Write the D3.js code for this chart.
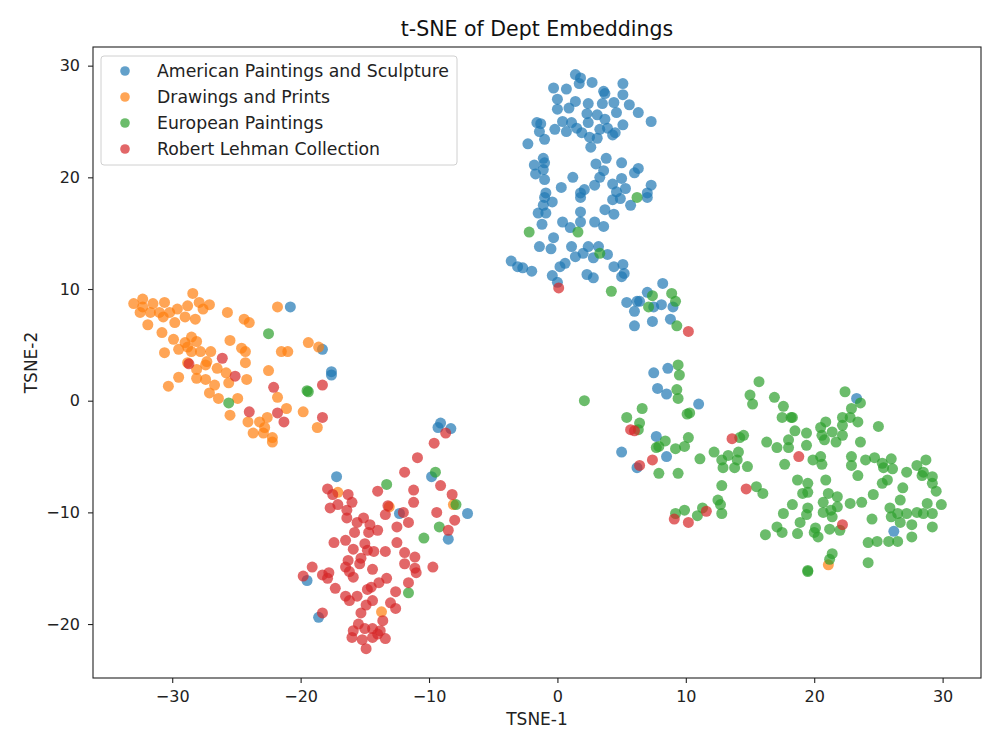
<!DOCTYPE html>
<html>
<head>
<meta charset="utf-8">
<script src="https://cdn.jsdelivr.net/npm/d3@7"></script>
<style>
  body { margin: 0; background: #fff; }
  svg { display: block; font-family: "DejaVu Sans", sans-serif; }
</style>
</head>
<body>
<div class="main-container"></div>
<script>
var categories = ["American Paintings and Sculpture", "Drawings and Prints", "European Paintings", "Robert Lehman Collection"];
var colors = ["#1f77b4", "#ff7f0e", "#2ca02c", "#d62728"];
var xTicks = [-30, -20, -10, 0, 10, 20, 30];
var yTicks = [-20, -10, 0, 10, 20, 30];

// American Paintings and Sculpture
var american = [
  [1.4,29.2],[1.8,28.9],[1.7,28.4],[2.7,28.5],[5.1,28.4],[-0.3,28.0],[0.7,27.9],[3.6,27.7],[3.7,27.5],[5.1,27.4],
  [0.0,27.0],[1.4,26.8],[2.4,26.6],[3.5,26.6],[4.4,26.7],[5.6,26.5],[0.0,26.1],[0.9,26.2],[2.3,25.7],[3.1,25.6],
  [3.7,25.2],[4.6,25.8],[6.3,25.8],[7.3,25.0],[-1.6,24.9],[-1.3,24.8],[0.4,25.0],[1.1,24.9],[2.4,24.9],[-0.2,24.3],
  [0.7,24.1],[1.5,24.4],[1.9,24.0],[3.3,24.3],[3.9,24.4],[5.1,24.7],[-1.4,24.1],[4.5,24.0],[4.3,23.8],[2.5,23.6],
  [3.1,23.5],[-1.0,23.4],[-2.3,23.0],[2.6,22.7],[-1.1,21.7],[-1.8,21.1],[-1.0,21.3],[3.8,21.7],[3.0,21.2],[5.0,21.3],
  [6.3,20.8],[6.0,20.4],[-1.1,20.7],[-1.7,20.3],[3.6,20.6],[3.3,20.0],[-1.0,19.8],[1.2,20.0],[5.0,19.9],[4.3,19.4],
  [7.3,19.3],[0.3,19.1],[2.9,19.3],[5.3,19.0],[-0.9,18.6],[1.8,18.6],[2.1,18.9],[4.6,18.7],[7.0,18.6],
  [-1.0,18.2],[-0.4,17.8],[1.8,18.2],[4.3,18.0],[4.9,18.1],[5.7,17.5],[7.0,18.2],[-1.1,17.5],[-1.5,16.8],[-0.9,16.8],
  [1.8,16.9],[3.7,17.1],[4.4,16.7],[-1.2,15.8],[0.4,16.0],[1.0,15.5],[1.8,16.0],[2.9,16.0],[3.6,15.6],[-0.3,14.6],
  [-1.4,13.8],[-0.5,13.6],[1.1,13.8],[2.4,13.8],[3.2,13.8],[2.0,13.2],[1.4,12.9],[2.8,12.8],[3.9,13.1],[-3.6,12.5],
  [-3.1,12.0],[-2.7,11.9],[-2.0,11.6],[0.6,12.3],[0.2,12.0],[4.4,12.0],[5.1,12.2],[5.2,11.4],[5.0,11.1],[-0.4,11.2],
  [2.3,11.3],[2.8,11.0],[0.0,10.6],[8.2,10.5],[7.0,9.7],[6.4,8.9],[5.4,8.8],[6.2,8.9],[8.1,8.6],[7.5,8.4],
  [6.0,8.0],[9.0,8.4],[7.4,7.1],[6.0,6.7],[8.8,7.3],
  [7.5,2.5],[8.6,2.9],[7.8,1.1],[8.5,0.6],[11.0,-0.3],[7.7,-3.2],[5.0,-4.6],[8.5,-5.0],[6.2,-6.0],
  [23.3,0.2],[26.2,-11.7],
  [-20.8,8.4],[-18.3,4.6],[-17.6,2.6],[-17.6,2.3],
  [-9.1,-2.0],[-9.3,-2.4],[-8.3,-2.5],[-17.2,-6.8],[-9.8,-6.8],[-7.0,-10.1],[-12.3,-10.1],
  [-8.5,-12.4],[-19.5,-16.1],[-18.6,-19.4]
];

// Drawings and Prints
var drawings = [
  [-33.0,8.7],[-32.3,9.1],[-32.3,8.4],[-31.5,8.7],[-30.6,8.8],[-28.4,9.6],[-27.9,8.8],[-27.1,8.6],[-28.8,8.5],[-29.6,8.2],
  [-32.5,7.9],[-31.7,7.9],[-31.0,7.9],[-30.7,7.5],[-30.2,7.9],[-29.0,7.5],[-28.2,7.3],[-27.6,8.2],[-31.9,6.8],[-29.8,7.0],
  [-30.8,6.1],[-25.7,7.9],[-24.4,7.3],[-24.0,7.0],[-21.8,8.4],[-29.9,5.5],[-28.5,5.7],[-28.1,5.3],[-28.8,4.8],[-29.0,5.2],
  [-25.5,5.4],[-24.6,4.7],[-24.3,4.4],[-30.6,4.3],[-29.5,4.6],[-28.5,4.4],[-27.8,4.4],[-27.0,4.4],[-21.5,4.4],[-21.0,4.4],
  [-19.4,5.2],[-18.6,4.8],[-28.8,3.4],[-27.4,3.2],[-27.3,3.5],[-26.5,2.9],[-24.3,3.4],[-28.1,2.8],[-25.8,2.5],[-22.5,2.7],
  [-29.5,2.1],[-30.3,1.3],[-28.1,2.0],[-27.4,1.9],[-26.7,1.4],[-25.6,1.6],[-24.2,1.9],[-27.1,0.7],[-26.4,0.2],[-24.9,0.2],
  [-21.8,0.3],[-21.1,-0.7],[-19.8,-1.0],[-25.5,-1.3],[-24.1,-1.9],[-23.2,-1.9],[-22.6,-1.5],[-22.8,-2.4],[-23.7,-2.9],[-22.9,-2.9],
  [-22.2,-3.3],[-22.2,-3.7],[-18.7,-2.4],
  [-17.1,-8.2],[-13.1,-9.5],[-8.1,-9.3],[-13.7,-18.9],[21.1,-14.7]
];

// European Paintings
var european = [
  [6.2,18.2],[-2.2,15.1],[1.6,15.1],[3.3,13.2],[4.2,9.8],[8.9,9.6],[7.4,9.4],[9.2,8.9],[7.1,8.4],[9.3,6.7],
  [9.4,3.2],[9.5,2.3],[9.3,1.0],[9.4,0.2],[2.1,0.0],[6.6,-0.7],[10.3,-1.1],[10.1,-1.2],[5.4,-1.5],[6.4,-2.0],
  [6.3,-2.6],[8.4,-3.6],[10.2,-3.3],[9.9,-4.1],[9.2,-4.3],[7.7,-4.2],[7.9,-4.1],[11.1,-5.2],[7.9,-6.5],[9.4,-6.5],
  [12.2,-4.6],[12.8,-5.3],[13.3,-4.9],[14.1,-4.6],[14.0,-5.3],[14.5,-3.1],[14.2,-3.3],[12.9,-6.0],[13.8,-6.0],[14.8,-5.9],
  [12.8,-7.6],[12.5,-8.9],[12.7,-9.3],[12.8,-10.1],[15.5,-7.7],[16.0,-8.3],[15.7,1.7],[15.0,0.5],[15.2,-0.3],[9.2,-10.1],
  [9.9,-9.8],[10.9,-10.3],[11.3,-9.6],[16.3,-3.7],
  [16.9,0.3],[17.6,-0.5],[17.5,-1.5],[18.2,-1.5],[18.3,-1.5],[22.4,0.8],[23.6,-0.2],[22.9,-0.7],[22.2,-1.5],[22.8,-1.5],
  [23.4,-1.9],[25.0,-2.3],[20.9,-1.9],[20.5,-2.4],[18.5,-2.7],[19.4,-2.9],[21.4,-2.8],[22.2,-2.2],[22.2,-3.1],[20.6,-3.1],
  [20.8,-3.5],[21.7,-3.7],[17.1,-4.2],[18.0,-3.5],[18.0,-4.2],[19.4,-4.0],[23.6,-3.7],[17.7,-5.7],[19.9,-5.3],[20.5,-5.0],
  [20.6,-5.7],[22.9,-5.0],[22.9,-5.8],[24.0,-5.3],[24.7,-5.1],[25.3,-5.6],[26.0,-5.2],[26.1,-6.1],[25.4,-6.0],[23.4,-6.7],
  [25.7,-7.1],[25.3,-7.4],[27.2,-6.4],[28.0,-5.8],[28.7,-5.3],[28.5,-6.4],[29.2,-6.8],[28.4,-6.7],[29.2,-7.4],[29.5,-8.1],
  [26.9,-7.8],[18.7,-7.1],[19.5,-7.4],[20.9,-7.1],[19.1,-8.3],[19.5,-8.2],[21.1,-8.3],[21.8,-8.6],[20.7,-9.1],[21.8,-9.5],
  [22.8,-9.2],[23.7,-9.1],[24.6,-8.4],[26.7,-8.9],[25.9,-9.6],[26.5,-10.1],[27.2,-10.1],[28.0,-10.0],[28.8,-9.2],[28.5,-10.1],
  [29.2,-10.1],[29.9,-9.3],[18.3,-9.3],[17.6,-10.1],[19.5,-9.6],[19.4,-10.2],[20.7,-10.0],[21.3,-9.8],[21.4,-10.4],[18.9,-10.9],
  [24.5,-10.6],[26.0,-10.4],[26.7,-10.9],[27.6,-11.1],[29.2,-11.3],[17.1,-11.3],[17.5,-11.8],[18.7,-11.9],[20.1,-11.4],[20.0,-11.8],
  [20.3,-12.2],[21.2,-11.5],[22.0,-11.6],[16.2,-12.0],[24.2,-12.7],[24.9,-12.6],[25.8,-12.6],[26.5,-12.6],[27.6,-12.2],[21.4,-13.7],
  [21.2,-14.2],[24.2,-14.5],[19.5,-15.3],[19.5,-15.2],
  [-22.5,6.0],[-19.5,0.9],[-19.4,0.8],[-25.6,-0.2],
  [-9.5,-6.4],[-13.3,-7.5],[-7.9,-9.3],[-9.2,-11.3],[-10.4,-12.3],[-11.6,-17.2]
];

// Robert Lehman Collection
var lehman = [
  [0.1,10.1],[10.2,6.2],
  [5.7,-2.6],[6.0,-2.7],[6.4,-5.8],[7.4,-5.3],[13.6,-3.4],[14.7,-7.9],[9.1,-10.6],[10.2,-10.9],[11.6,-9.9],[18.8,-5.0],[22.2,-11.1],
  [-28.7,3.3],[-26.1,3.8],[-25.1,2.2],[-22.1,1.2],[-18.3,1.4],[-24.0,-1.0],[-21.8,-1.1],[-21.3,-1.9],[-18.3,-1.5],
  [-8.7,-2.9],[-9.6,-3.8],[-10.9,-5.1],[-11.9,-6.4],[-9.1,-7.6],[-8.2,-8.4],[-11.2,-8.0],[-11.2,-9.1],[-14.0,-8.1],[-17.9,-7.9],
  [-17.5,-8.4],[-16.3,-8.4],[-16.0,-9.1],[-17.7,-9.6],[-17.1,-9.3],[-16.4,-9.8],[-13.2,-9.4],[-13.4,-10.2],[-12.0,-10.0],[-11.6,-10.9],
  [-9.4,-10.0],[-8.0,-10.7],[-8.5,-11.6],[-16.4,-10.5],[-15.1,-10.5],[-15.6,-10.9],[-14.6,-11.1],[-14.7,-11.8],[-15.8,-11.8],[-14.0,-11.6],
  [-12.5,-11.3],[-17.4,-12.7],[-16.5,-12.5],[-12.5,-12.7],[-15.9,-13.3],[-15.0,-12.8],[-14.8,-13.4],[-14.3,-13.5],[-13.4,-13.5],[-11.9,-13.6],
  [-11.1,-14.0],[-16.3,-14.3],[-15.3,-14.1],[-15.4,-14.6],[-19.1,-14.9],[-19.8,-15.7],[-18.3,-15.6],[-17.8,-15.4],[-17.9,-15.9],[-16.5,-14.9],
  [-16.2,-15.3],[-15.9,-15.8],[-14.4,-15.1],[-11.9,-14.6],[-11.1,-15.0],[-11.0,-15.4],[-9.7,-14.9],[-13.3,-15.9],[-13.9,-16.3],[-14.5,-16.7],
  [-14.8,-16.9],[-11.6,-16.3],[-12.6,-17.1],[-17.3,-16.8],[-16.5,-17.5],[-16.2,-17.9],[-15.6,-17.5],[-14.4,-17.9],[-13.0,-18.1],[-12.6,-18.6],
  [-14.9,-18.3],[-15.3,-19.0],[-18.3,-19.0],[-13.6,-19.7],[-15.5,-20.0],[-15.0,-20.4],[-15.9,-20.6],[-14.4,-20.4],[-13.8,-20.6],[-16.0,-21.2],
  [-15.2,-21.4],[-14.4,-21.2],[-14.0,-20.9],[-13.4,-21.3],[-14.9,-22.2]
];

var series = [american, drawings, european, lehman];

var width = 1000, height = 751;
var plotLeft = 93, plotRight = 981, plotTop = 47, plotBottom = 678;

var svg = d3.select(".main-container")
    .append("svg")
    .attr("width", width)
    .attr("height", height);

var x = d3.scaleLinear().domain([-36.17, 32.99]).range([plotLeft, plotRight]);
var y = d3.scaleLinear().domain([-24.83, 31.67]).range([plotBottom, plotTop]);

// points, drawn series by series like matplotlib does
series.forEach(function (pts, i) {
    svg.append("g")
        .selectAll("circle")
        .data(pts)
        .enter()
        .append("circle")
        .attr("cx", function (d) { return x(d[0]); })
        .attr("cy", function (d) { return y(d[1]); })
        .attr("r", 5.5)
        .style("fill", colors[i])
        .style("fill-opacity", 0.7);
});

// axes
var fmt = function (d) { return d < 0 ? "\u2212" + Math.abs(d) : d; };
var xAxis = svg.append("g")
    .attr("transform", "translate(0," + plotBottom + ")")
    .call(d3.axisBottom(x).tickValues(xTicks).tickSize(5).tickPadding(8).tickFormat(fmt));
var yAxis = svg.append("g")
    .attr("transform", "translate(" + plotLeft + ",0)")
    .call(d3.axisLeft(y).tickValues(yTicks).tickSize(5).tickPadding(8).tickFormat(fmt));
[xAxis, yAxis].forEach(function (a) {
    a.select(".domain").remove();
    a.selectAll("text").style("font-size", "16px").style("fill", "#222").style("font-family", "DejaVu Sans");
    a.selectAll("line").style("stroke", "#222").style("stroke-width", 1.1);
});

svg.append("rect")
    .attr("x", plotLeft).attr("y", plotTop)
    .attr("width", plotRight - plotLeft).attr("height", plotBottom - plotTop)
    .style("fill", "none").style("stroke", "#222").style("stroke-width", 1.1);

svg.append("text")
    .attr("x", (plotLeft + plotRight) / 2).attr("y", 36)
    .attr("text-anchor", "middle")
    .style("font-size", "20.5px")
    .style("fill", "#111")
    .text("t-SNE of Dept Embeddings");

svg.append("text")
    .attr("x", (plotLeft + plotRight) / 2).attr("y", 725)
    .attr("text-anchor", "middle")
    .style("font-size", "17px")
    .style("fill", "#222")
    .text("TSNE-1");

svg.append("text")
    .attr("transform", "translate(37," + ((plotTop + plotBottom) / 2) + ") rotate(-90)")
    .attr("text-anchor", "middle")
    .style("font-size", "17px")
    .style("fill", "#222")
    .text("TSNE-2");

// legend
var legend = svg.append("g");
legend.append("rect")
    .attr("x", 101).attr("y", 56)
    .attr("width", 356).attr("height", 109)
    .attr("rx", 3)
    .style("fill", "#fff").style("fill-opacity", 0.8)
    .style("stroke", "#d0d0d0").style("stroke-width", 1);
var rows = legend.selectAll("g.row")
    .data(categories)
    .enter()
    .append("g")
    .attr("class", "row")
    .attr("transform", function (d, i) { return "translate(0," + (71 + i * 26) + ")"; });
rows.append("circle")
    .attr("cx", 125).attr("cy", 0).attr("r", 4.8)
    .style("fill", function (d, i) { return colors[i]; })
    .style("fill-opacity", 0.7);
rows.append("text")
    .attr("x", 157).attr("y", 6)
    .style("font-size", "17.3px")
    .style("fill", "#222")
    .text(function (d) { return d; });
</script>
</body>
</html>
